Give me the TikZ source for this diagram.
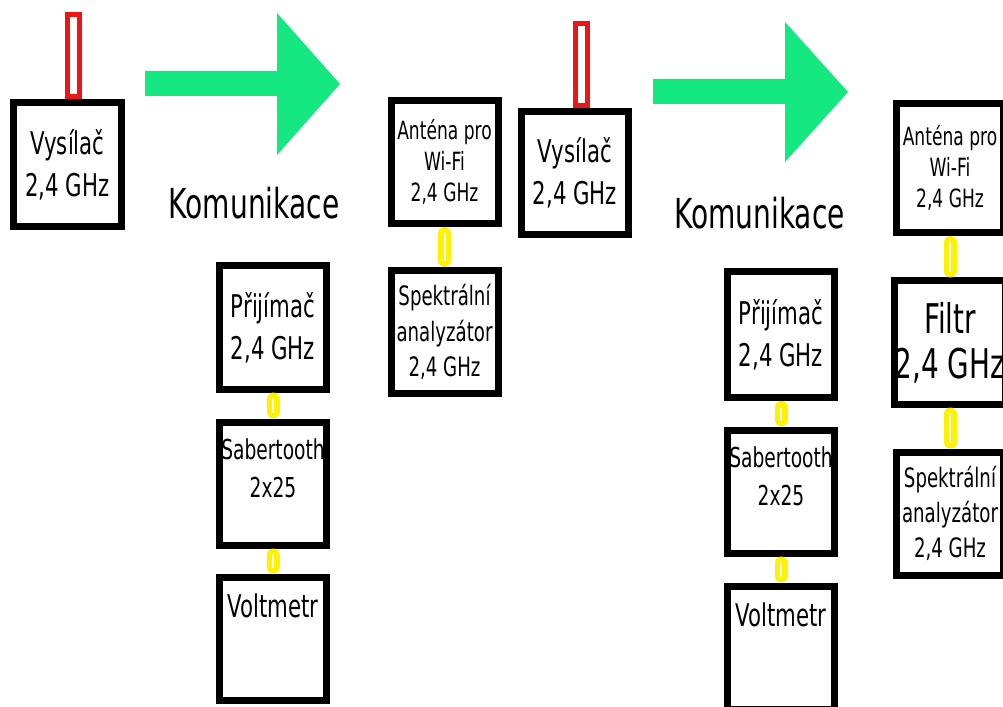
\documentclass[tikz,border=0pt]{standalone}
\usepackage{fontspec}
\setmainfont{DejaVu Sans}[FakeStretch=0.68]
\usetikzlibrary{positioning}
\definecolor{arrowgreen}{RGB}{21,232,128}
\definecolor{antred}{RGB}{236,22,22}

\begin{document}
\begin{tikzpicture}[x=0.2mm,y=-0.2mm,
  box/.style={draw, line width=1.4mm, fill=white, minimum width=21.4mm,
    minimum height=24.6mm, inner sep=0pt, align=center},
  antenna/.style={draw=antred, line width=1mm, fill=white,
    minimum width=2.4mm, minimum height=16.4mm, inner sep=0pt},
  link/.style={draw=yellow, line width=1.1mm, double=white, double distance=0.4mm,
    line cap=round, shorten <=1.3mm, shorten >=1.3mm},
  bigtxt/.style={font=\fontsize{17.8}{24}\selectfont, align=center, inner sep=0pt},
  sabtxt/.style={font=\fontsize{15.6}{21.6}\selectfont, align=center, inner sep=0pt},
  anttxt/.style={font=\fontsize{14.3}{17.6}\selectfont},
  spektxt/.style={font=\fontsize{15.2}{20}\selectfont},
  filtrtxt/.style={font=\fontsize{23.3}{25.6}\selectfont},
  komtxt/.style={font=\fontsize{23.5}{26}\selectfont, inner sep=0pt}]

\useasboundingbox (0,0) rectangle (1003,707);
\clip (0,0) rectangle (1003,707);

%left one
\node[box, bigtxt] (vys1) at (67.5,164.5) {Vysílač\\2,4 GHz};
\node[antenna, above=0pt of vys1.north, xshift=1.2mm] (ant1) {};
\fill[arrowgreen] (145,71) -- (277,71) -- (277,13) -- (340,84) -- (277,155)
  -- (277,96) -- (145,96) -- cycle;
\node[komtxt] (kom1) at (254,203) {Komunikace};

\node[box, bigtxt] (pri1) at (273,327.5) {Přijímač\\2,4 GHz};
\node[box] (sab1) at (273,483.5) {};
\node[sabtxt, below=4mm of sab1.north] (sab1txt) {Sabertooth\\2x25};
\node[box] (volt1) at (273,638.5) {};
\node[bigtxt, below=4mm of volt1.north] (volt1txt) {Voltmetr};

\node[box, anttxt] (wifi1) at (444.5,162) {Anténa pro\\Wi-Fi\\2,4 GHz};
\node[box, spektxt] (spek1) at (444.5,332) {Spektrální\\analyzátor\\2,4 GHz};

% right one
\node[box, bigtxt] (vys2) at (575,173) {Vysílač\\2,4 GHz};
\node[antenna, above=0pt of vys2.north, xshift=1.2mm] (ant2) {};
\fill[arrowgreen] (653,79) -- (785,79) -- (785,22) -- (848,92) -- (785,162)
  -- (785,104) -- (653,104) -- cycle;
\node[komtxt] (kom2) at (759.5,213) {Komunikace};

\node[box, bigtxt, minimum height=25.2mm] (pri2) at (781,334.5) {Přijímač\\2,4 GHz};
\node[box] (sab2) at (781,491.5) {};
\node[sabtxt, below=4mm of sab2.north] (sab2txt) {Sabertooth\\2x25};
\node[box] (volt2) at (781,647.5) {};
\node[bigtxt, below=4mm of volt2.north] (volt2txt) {Voltmetr};

\node[box, anttxt, minimum height=25.8mm] (wifi2) at (950,168) {Anténa pro\\Wi-Fi\\2,4 GHz};
\node[box, filtrtxt] (filtr2) at (950,342.5) {Filtr\\2,4 GHz};
\node[box, spektxt] (spek2) at (950,513.5) {Spektrální\\analyzátor\\2,4 GHz};

% cables
\draw[link] (pri1) -- (sab1);
\draw[link] (sab1) -- (volt1);
\draw[link] (wifi1) -- (spek1);
\draw[link] (pri2) -- (sab2);
\draw[link] (sab2) -- (volt2);
\draw[link] (wifi2) -- (filtr2);
\draw[link] (filtr2) -- (spek2);

\end{tikzpicture}
\end{document}
